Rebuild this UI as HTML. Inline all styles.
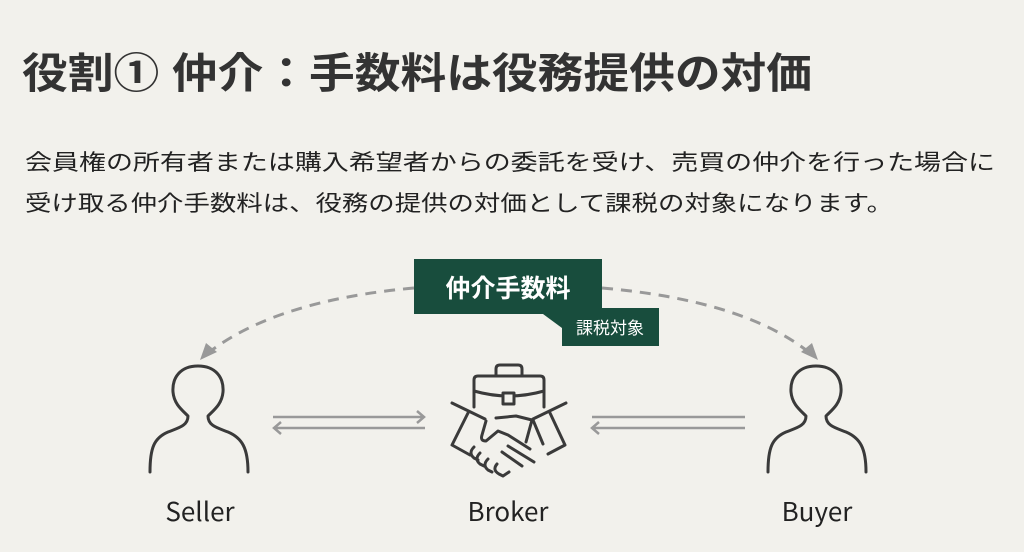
<!DOCTYPE html>
<html><head><meta charset="utf-8"><style>
html,body{margin:0;padding:0;background:#f2f1ec;}
svg{display:block;}
text{font-family:"Liberation Sans","Noto Sans CJK JP",sans-serif;}
text.lbl{font-family:"Noto Sans CJK JP","Liberation Sans",sans-serif;}
</style></head><body>
<svg width="1024" height="552" viewBox="0 0 1024 552" xmlns="http://www.w3.org/2000/svg">
<rect width="1024" height="552" fill="#f2f1ec"/>
<text x="22" y="88" font-size="42" font-weight="bold" fill="#333" textLength="790" lengthAdjust="spacingAndGlyphs">役割① 仲介：手数料は役務提供の対価</text>
<text x="25" y="170" font-size="22" fill="#222" textLength="970" lengthAdjust="spacingAndGlyphs">会員権の所有者または購入希望者からの委託を受け、売買の仲介を行った場合に</text>
<text x="25" y="211" font-size="22" fill="#222" textLength="868" lengthAdjust="spacingAndGlyphs">受け取る仲介手数料は、役務の提供の対価として課税の対象になります。</text>

<g fill="none" stroke="#999" stroke-width="3" stroke-dasharray="11 8">
<path d="M414 288 Q280 300 212 350"/>
<path d="M602 288 Q740 300 806 350"/>
</g>
<polygon points="200,360 206,343 217,352" fill="#999"/>
<polygon points="818,360 812,343 801,352" fill="#999"/>

<rect x="414" y="259" width="188" height="55" fill="#184d3d"/>
<polygon points="543,314 562,314 562,328" fill="#184d3d"/>
<rect x="562" y="308" width="97" height="38" fill="#184d3d"/>
<text x="508" y="297" font-size="25" font-weight="bold" fill="#fff" text-anchor="middle">仲介手数料</text>
<text x="610" y="334" font-size="17" fill="#fff" text-anchor="middle">課税対象</text>

<g fill="none" stroke="#3a3a3a" stroke-width="3" stroke-linecap="round" stroke-linejoin="round">
<path d="M198 366 C180 366 172 378 173 392 C174 404 182 410 188 416 C188 426 178 428 168 432 C154 438 150 448 150 472"/>
<path d="M198 366 C216 366 224 378 223 392 C222 404 214 410 208 416 C208 426 218 428 228 432 C242 438 248 448 248 472"/>
<path d="M816 366 C798 366 790 378 791 392 C792 404 800 410 806 416 C806 426 796 428 786 432 C772 438 768 448 768 472"/>
<path d="M816 366 C834 366 842 378 841 392 C840 404 832 410 826 416 C826 426 836 428 846 432 C860 438 866 448 866 472"/>
<path d="M474 407 V380 q0-4 4-4 h62 q4 0 4 4 V407"/>
<path d="M496 376 v-7 q0-4 4-4 h18 q4 0 4 4 v7"/>
<path d="M474 391 q35 10 70 0"/>
<rect x="503" y="393" width="11" height="11" fill="#f2f1ec"/>
<path d="M452 403 l33 16 M468 413 l-16 32 l18 10"/>
<path d="M566 403 l-33 16 M550 413 l15 32 l-17 9"/>
<path d="M486 421 l-4 14 q-2 6 4 6 l12 -10 l10 4 l22 14"/>
<path d="M496 418 l20 -2 l16 4 l-6 22 M533 420 l10 24"/>
<path d="M474 447 q-6 6 0 11 l4 2 M480 453 q-6 6 0 11 l4 2 M488 459 q-6 6 0 11 l4 2 M497 464 q-5 6 2 10 l4 2 l6 -4"/>
<path d="M508 446 l26 16 M502 452 l20 14"/>
</g>

<g stroke="#999" stroke-width="2.5" fill="none">
<path d="M273 417 H424 M417 411 l7 6 l-7 6"/>
<path d="M425 428 H274 M281 422 l-7 6 l7 6"/>
<path d="M592 417 H745"/>
<path d="M745 428 H592 M599 422 l-7 6 l7 6"/>
</g>

<text class="lbl" x="200" y="521" font-size="26" fill="#222" text-anchor="middle">Seller</text>
<text class="lbl" x="508" y="521" font-size="26" fill="#222" text-anchor="middle">Broker</text>
<text class="lbl" x="817" y="521" font-size="26" fill="#222" text-anchor="middle">Buyer</text>
</svg>
</body></html>
